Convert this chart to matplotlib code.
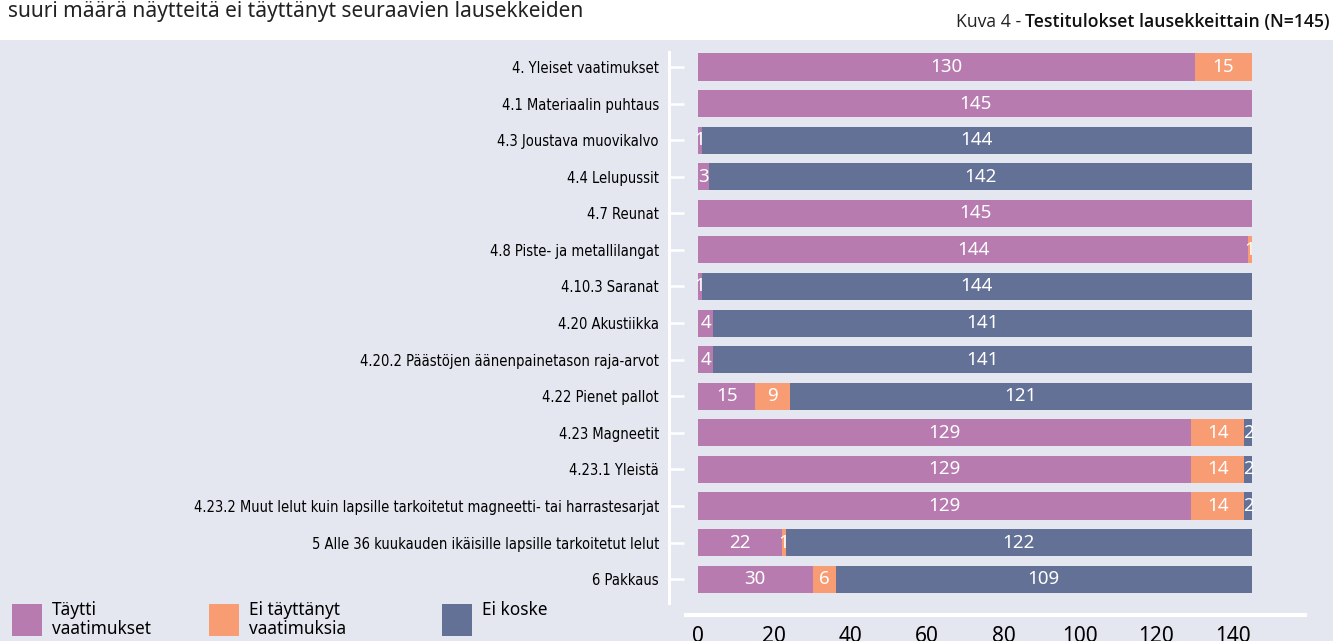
import matplotlib
matplotlib.use("Agg")
import matplotlib.pyplot as plt
import numpy as np
from matplotlib.patches import Rectangle

categories = [
    "4. Yleiset vaatimukset",
    "4.1 Materiaalin puhtaus",
    "4.3 Joustava muovikalvo",
    "4.4 Lelupussit",
    "4.7 Reunat",
    "4.8 Piste- ja metallilangat",
    "4.10.3 Saranat",
    "4.20 Akustiikka",
    "4.20.2 Päästöjen äänenpainetason raja-arvot",
    "4.22 Pienet pallot",
    "4.23 Magneetit",
    "4.23.1 Yleistä",
    "4.23.2 Muut lelut kuin lapsille tarkoitetut magneetti- tai harrastesarjat",
    "5 Alle 36 kuukauden ikäisille lapsille tarkoitetut lelut",
    "6 Pakkaus",
]
tayttti = [130, 145, 1, 3, 145, 144, 1, 4, 4, 15, 129, 129, 129, 22, 30]
ei_tayttanyt = [15, 0, 0, 0, 0, 1, 0, 0, 0, 9, 14, 14, 14, 1, 6]
ei_koske = [0, 0, 144, 142, 0, 0, 144, 141, 141, 121, 2, 2, 2, 122, 109]
series_names = ["Täytti\nvaatimukset", "Ei täyttänyt\nvaatimuksia", "Ei koske"]
xticks = [0, 20, 40, 60, 80, 100, 120, 140]

colors = ["#b77bb0", "#f89c74", "#647196"]
bg = "#e4e7f0"

W, H = 1333, 641
fig = plt.figure(figsize=(W / 100, H / 100), dpi=100)
fig.patch.set_facecolor(bg)
# white strip at the top
fig.patches.append(Rectangle((0, (H - 40) / H), 1, 40 / H, transform=fig.transFigure,
                             facecolor="white", edgecolor="none", zorder=-1))

# axes in pixel terms: x 686..1305, y 52..615 (from top)
ax = fig.add_axes([686 / W, (H - 615) / H, (1305 - 686) / W, (615 - 52) / H])
ax.set_facecolor(bg)
ax.patch.set_alpha(0)

px_per_unit = (1252 - 698) / 145
ax.set_xlim(-(698 - 686) / px_per_unit, (1305 - 698) / px_per_unit)
n = len(categories)
y = np.arange(n)
ax.set_ylim(n - 1 + 0.98, -0.41)

left = np.zeros(n)
for vals, col in zip([tayttti, ei_tayttanyt, ei_koske], colors):
    vals = np.array(vals, dtype=float)
    ax.barh(y, vals, left=left, height=0.74, color=col, edgecolor="none", zorder=3)
    for yi, l, v in zip(y, left, vals):
        if v > 0:
            ax.text(l + v / 2, yi, f"{int(v)}", ha="center", va="center",
                    color="white", fontsize=13.5, family="Noto Sans", zorder=4)
    left += vals

for s in ["top", "right"]:
    ax.spines[s].set_visible(False)
ax.spines["left"].set_position(("outward", 12.5))
ax.spines["left"].set_color("white")
ax.spines["left"].set_linewidth(2.2)
ax.spines["left"].set_bounds(n - 1 + 0.66, -0.41)
ax.spines["bottom"].set_color("white")
ax.spines["bottom"].set_linewidth(3)

ax.set_yticks(y)
ax.set_yticklabels(categories, fontsize=10.5, family="DejaVu Sans", fontstretch="condensed")
ax.tick_params(axis="y", direction="in", length=11, width=1.8, color="white", pad=7)
ax.set_xticks(xticks)
ax.set_xticklabels([str(t) for t in xticks], fontsize=15, family="Noto Sans")
ax.tick_params(axis="x", length=0, pad=8)

# legend boxes
leg_x = [12, 209, 442]
for lx, col, name in zip(leg_x, colors, series_names):
    fig.patches.append(Rectangle((lx / W, (H - 636) / H), 30 / W, 32 / H,
                                 transform=fig.transFigure, facecolor=col,
                                 edgecolor="none", zorder=2))
    fig.text((lx + 40) / W, (H - 601) / H, name, ha="left", va="top",
             fontsize=12.4, family="Noto Sans", linespacing=1.1)

fig.text(8 / W, (H - 12) / H, "suuri määrä näytteitä ei täyttänyt seuraavien lausekkeiden",
         ha="left", va="center", fontsize=15, family="Noto Sans", color="#222222")
t = fig.text(1330 / W, (H - 22) / H, "Testitulokset lausekkeittain (N=145)",
             ha="right", va="center", fontsize=12.7, family="Open Sans",
             weight="semibold", color="#111111")
fig.canvas.draw()
bb = t.get_window_extent()
fig.text(bb.x0 / W, (H - 22) / H, "Kuva 4 - ", ha="right", va="center",
         fontsize=12.7, family="Open Sans", color="#222222")

fig.savefig("out.png", dpi=100, facecolor=fig.get_facecolor())
